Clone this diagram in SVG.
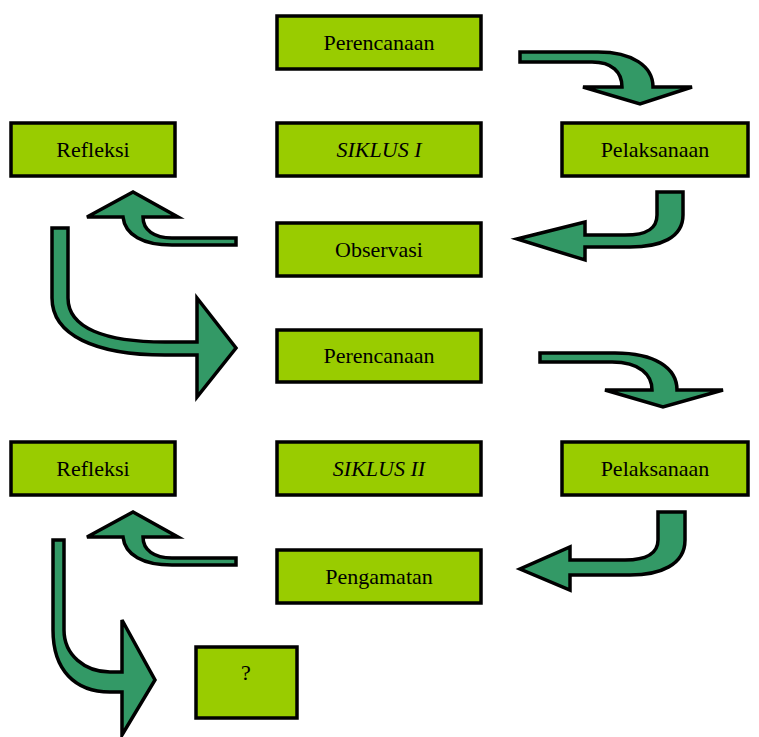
<svg xmlns="http://www.w3.org/2000/svg" width="759" height="737" viewBox="0 0 759 737">
<style>
.box{fill:#99CC00;stroke:#000;stroke-width:3.5}
.t{font-family:"Liberation Serif","Times New Roman",serif;font-size:22px;fill:#000;text-anchor:middle;dominant-baseline:central}
.i{font-style:italic}
.ar{fill:#339966;stroke:#000;stroke-width:3.5;stroke-linejoin:miter}
</style>
<rect width="759" height="737" fill="#fff"/>
<g id="connectors">
<path class="ar" d="M520,52 L598,52 C632,52 653,66 653,87 L692,87 L640,104 L583,87 L622,87 C622,72 612,62 592,62 L520,62 Z"/>
<path class="ar" d="M657,192 L683,192 L683,215 C683,238 660,247 630,247 L585,247 L585,260 L517,239 L585,222 L585,235 L625,235 C648,235 657,228 657,215 Z"/>
<path class="ar" d="M236,238 L172,238 C154,238 143,230 143,217 L178,217 L133,192 L87,217 L123,217 C125,235 143,245 172,245 L236,245 Z"/>
<path class="ar" d="M52,228 L68,228 L68,298 C68,328 105,342 165,342 L197,342 L197,298 L236,348 L197,397 L197,355 L165,355 C95,355 52,335 52,298 Z"/>
<path class="ar" d="M540,353 L615,353 C655,353 677,368 677,390 L723,390 L663,407 L605,390 L652,390 C652,375 640,362 612,362 L540,362 Z"/>
<path class="ar" d="M658,512 L685,512 L685,540 C685,565 660,575 630,575 L570,575 L570,590 L520,569 L570,547 L570,560 L625,560 C648,560 658,552 658,540 Z"/>
<path class="ar" d="M236,558 L172,558 C154,558 143,550 143,537 L178,537 L133,512 L87,537 L123,537 C125,555 143,565 172,565 L236,565 Z"/>
<path class="ar" d="M53,540 L64,540 L64,630 C64,655 85,672 110,672 L122,672 L122,620 L155,680 L122,735 L122,692 L110,692 C75,692 53,670 53,630 Z"/>
</g>
<g id="perencanaan1"><rect class="box" x="277" y="16" width="204" height="53"/><text class="t" x="379" y="42">Perencanaan</text></g>
<g id="refleksi1"><rect class="box" x="11" y="123" width="164" height="53"/><text class="t" x="93" y="149">Refleksi</text></g>
<g id="siklus1"><rect class="box" x="277" y="123" width="204" height="53"/><text class="t i" x="379" y="149">SIKLUS I</text></g>
<g id="pelaksanaan1"><rect class="box" x="562" y="123" width="186" height="53"/><text class="t" x="655" y="149">Pelaksanaan</text></g>
<g id="observasi"><rect class="box" x="277" y="223" width="204" height="53"/><text class="t" x="379" y="249">Observasi</text></g>
<g id="perencanaan2"><rect class="box" x="277" y="330" width="204" height="52"/><text class="t" x="379" y="355">Perencanaan</text></g>
<g id="refleksi2"><rect class="box" x="11" y="442" width="164" height="53"/><text class="t" x="93" y="468">Refleksi</text></g>
<g id="siklus2"><rect class="box" x="277" y="442" width="204" height="53"/><text class="t i" x="379" y="468">SIKLUS II</text></g>
<g id="pelaksanaan2"><rect class="box" x="562" y="442" width="186" height="53"/><text class="t" x="655" y="468">Pelaksanaan</text></g>
<g id="pengamatan"><rect class="box" x="277" y="550" width="204" height="53"/><text class="t" x="379" y="576">Pengamatan</text></g>
<g id="tanya"><rect class="box" x="196" y="647" width="101" height="71"/><text class="t" x="246" y="672">?</text></g>
</svg>
